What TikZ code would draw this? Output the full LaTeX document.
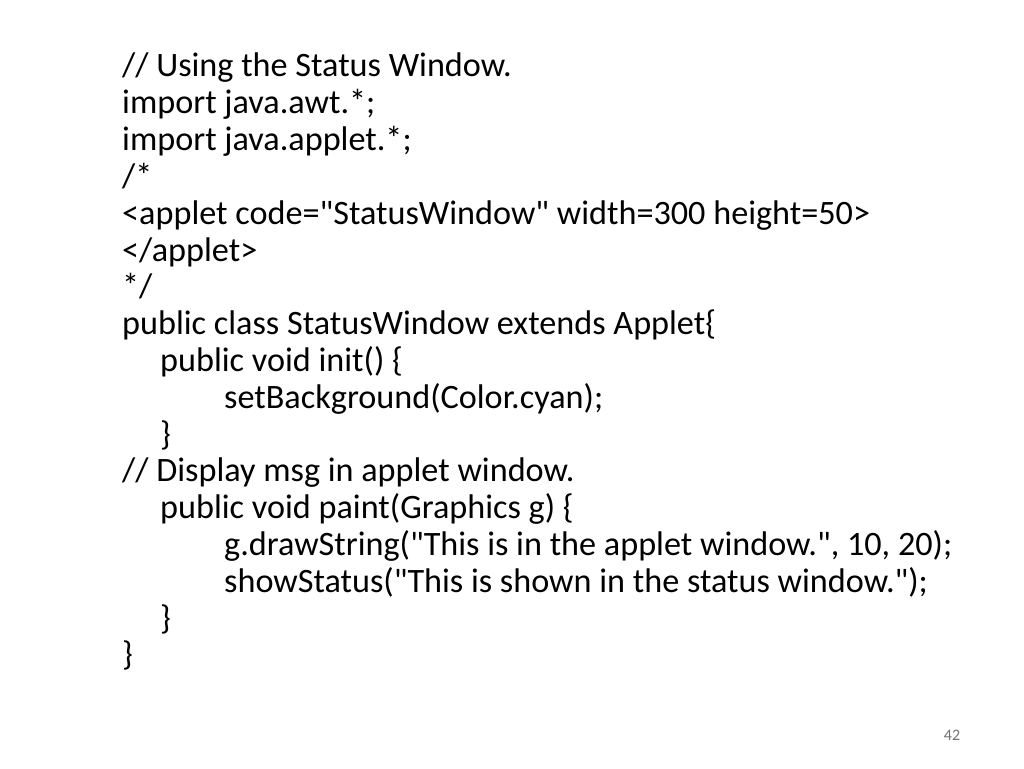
\documentclass[tikz,border=0pt]{standalone}
\usepackage{fontspec}
\setmainfont{Carlito}[Ligatures=TeXOff]
\begin{document}
\begin{tikzpicture}[x=1pt,y=-1pt,
  code/.style={anchor=base west,inner sep=0pt,font=\fontsize{34.2}{36}\selectfont,text=black},
  pgnum/.style={anchor=base,inner sep=0pt,font=\fontsize{16}{18}\selectfont,text=black!55}]
\useasboundingbox[fill=white] (0,0) rectangle (1024,768);
\def\dy{36.8}
\node[code] (l1) at (122,77) {// Using the Status Window.};
\node[code] (l2) at (122,77+1*\dy) {import java.awt.*;};
\node[code] (l3) at (122,77+2*\dy) {import java.applet.*;};
\node[code] (l4) at (122,77+3*\dy) {/*};
\node[code] (l5) at (122,77+4*\dy) {<applet code="StatusWindow" width=300 height=50>};
\node[code] (l6) at (122,77+5*\dy) {</applet>};
\node[code] (l7) at (122,77+6*\dy) {*/};
\node[code] (l8) at (122,77+7*\dy) {public class StatusWindow extends Applet\{};
\node[code] (l9) at (160,77+8*\dy) {public void init() \{};
\node[code] (l10) at (224,77+9*\dy) {setBackground(Color.cyan);};
\node[code] (l11) at (160,77+10*\dy) {\}};
\node[code] (l12) at (122,77+11*\dy) {// Display msg in applet window.};
\node[code] (l13) at (160,77+12*\dy) {public void paint(Graphics g) \{};
\node[code] (l14) at (224,77+13*\dy) {g.drawString("This is in the applet window.", 10, 20);};
\node[code] (l15) at (224,77+14*\dy) {showStatus("This is shown in the status window.");};
\node[code] (l16) at (160,77+15*\dy) {\}};
\node[code] (l17) at (122,77+16*\dy) {\}};
\node[pgnum] (pg) at (952,740) {42};
\end{tikzpicture}
\end{document}
